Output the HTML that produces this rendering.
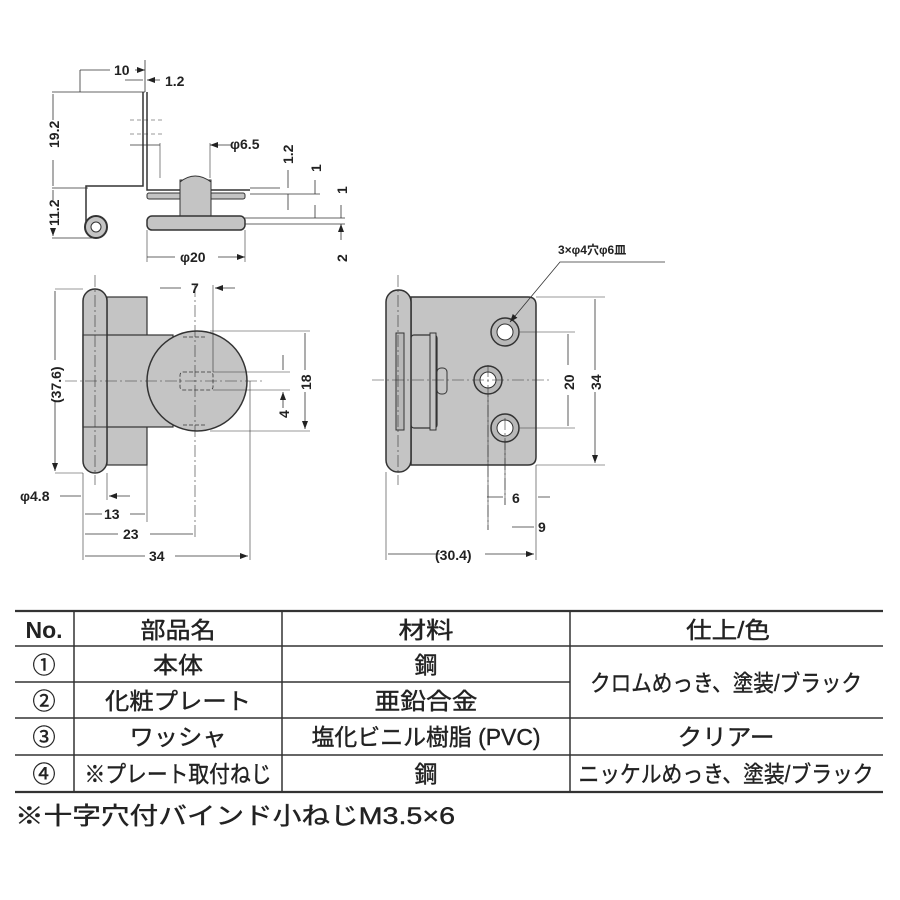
<!DOCTYPE html>
<html><head><meta charset="utf-8"><style>
body{margin:0;background:#fff;width:900px;height:900px;overflow:hidden}
svg{display:block}
text{font-family:"Liberation Sans","Noto Sans CJK JP",sans-serif;fill:#222}
</style></head><body>
<svg width="900" height="900" viewBox="0 0 900 900" xmlns="http://www.w3.org/2000/svg">
<defs>
<marker id="a" markerWidth="8" markerHeight="6" refX="8" refY="3" orient="auto-start-reverse" markerUnits="userSpaceOnUse"><path d="M0,0L8,3L0,6z" fill="#222"/></marker>
</defs>
<g stroke="#333" stroke-width="1" fill="none">
<path d="M52,92H145 M80,70V92 M145,60V92 M52,188H88 M52,238H96" stroke-width="0.8"/>
<path d="M143,92V186H86V222 M147,92V190H250" stroke-width="1.5"/>
<circle cx="96" cy="227" r="11" fill="#c4c4c4" stroke-width="2"/>
<circle cx="96" cy="227" r="5" fill="#fff"/>
<rect x="147" y="193" width="98" height="6" fill="#c4c4c4" rx="2"/>
<rect x="180" y="180" width="31" height="36" fill="#c4c4c4"/>
<path d="M180,182Q195,170 211,182" fill="#c4c4c4"/>
<rect x="147" y="216" width="98" height="14" rx="5" fill="#c4c4c4" stroke-width="1.5"/>
<path d="M245,218H345 M245,224H345 M250,188H280 M250,194H320" stroke-width="0.8"/>
<path d="M130,120H165 M130,134H165" stroke-width="0.6" stroke-dasharray="4,3"/>
<path d="M160,143V178 M210,143V178 M147,230V262 M245,230V262" stroke-width="0.6"/>
<path d="M80,70H110 M135,70H145" marker-end="url(#a)" stroke-width="0.8"/>
<path d="M125,80H143 M160,80H147" marker-end="url(#a)" stroke-width="0.8"/>
<path d="M53,120V94 M53,160V186 M53,200V190 M53,228V236" marker-end="url(#a)" stroke-width="0.8"/>
<path d="M130,145H160 M232,145H210" marker-end="url(#a)" stroke-width="0.8"/>
<path d="M175,257H147 M218,257H245" marker-end="url(#a)" stroke-width="0.8"/>
<path d="M288,170V188 M288,210V194 M315,180V194 M315,205V218 M341,205V218 M341,240V224" marker-end="url(#a)" stroke-width="0.8"/>
<rect x="107" y="297" width="40" height="168" fill="#c4c4c4" stroke-width="1.2"/>
<rect x="83" y="335" width="90" height="92" fill="#c4c4c4" stroke-width="1.2"/>
<circle cx="197" cy="381" r="50" fill="#c4c4c4" stroke-width="1.5"/>
<rect x="83" y="289" width="24" height="184" rx="12" fill="#c4c4c4" stroke-width="1.5"/>
<path d="M83,335H107 M83,427H107" stroke-width="1"/>
<rect x="180" y="372" width="33" height="18" rx="3" stroke-dasharray="4,2" stroke-width="0.8"/>
<path d="M183,337H205 M183,425H205" stroke-dasharray="4,2" stroke-width="0.8"/>
<path d="M65,381H265 M95,275V485 M195,285V540" stroke-width="0.6" stroke-dasharray="12,3,2,3"/>
<path d="M55,289H83 M55,473H83 M213,285V372 M250,381V560 M210,331H310 M210,431H310 M213,372H290 M213,390H290 M83,473V560 M107,473V500 M147,465V522" stroke-width="0.6"/>
<path d="M55,360V291 M55,402V471" marker-end="url(#a)" stroke-width="0.8"/>
<path d="M305,370V333 M305,392V429" marker-end="url(#a)" stroke-width="0.8"/>
<path d="M283,355V370 M283,408V392" marker-end="url(#a)" stroke-width="0.8"/>
<path d="M160,288H181 M235,288H215" marker-end="url(#a)" stroke-width="0.8"/>
<path d="M60,496H81 M130,496H109" marker-end="url(#a)" stroke-width="0.8"/>
<path d="M102,514H85 M130,514H145 M118,534H85 M150,534H193 M145,556H85 M175,556H248" marker-end="url(#a)" stroke-width="0.8"/>
<path d="M411,297H528Q536,297 536,305V457Q536,465 528,465H411Z" fill="#c4c4c4" stroke-width="1.5"/>
<rect x="393" y="335" width="18" height="93" fill="#b8b8b8" stroke-width="1.2"/>
<rect x="411" y="335" width="26" height="93" rx="3" fill="#c4c4c4" stroke-width="1.2"/>
<rect x="430" y="333" width="6" height="97" fill="#c4c4c4" stroke-width="1"/>
<rect x="437" y="368" width="10" height="26" rx="4" fill="#c4c4c4" stroke-width="1"/>
<rect x="386" y="290" width="25" height="182" rx="12" fill="#c4c4c4" stroke-width="1.5"/>
<rect x="396" y="333" width="8" height="97" fill="#b8b8b8" stroke-width="1"/>
<g fill="#b8b8b8" stroke-width="1.5"><circle cx="505" cy="332" r="14"/><circle cx="488" cy="380" r="14"/><circle cx="505" cy="428" r="14"/></g>
<g fill="#fff" stroke-width="1"><circle cx="505" cy="332" r="8"/><circle cx="488" cy="380" r="8"/><circle cx="505" cy="428" r="8"/></g>
<path d="M372,380H550 M398,275V485 M488,365V530 M505,418V505" stroke-width="0.6" stroke-dasharray="12,3,2,3"/>
<path d="M536,297H605 M536,465H605 M520,332H575 M520,428H575 M488,395V530 M505,440V505 M536,465V560 M386,472V560" stroke-width="0.6"/>
<path d="M568,365V334 M568,395V426 M595,370V299 M595,392V463" marker-end="url(#a)" stroke-width="0.8"/>
<path d="M487,497H503 M550,497H538 M512,527H534 M440,554H388 M485,554H534" marker-end="url(#a)" stroke-width="0.8"/>
<path d="M665,262H560L510,322" stroke-width="0.8" marker-end="url(#a)"/>
<path d="M15,611H883 M15,792H883" stroke-width="2.2"/>
<path d="M15,646H883 M15,682H570 M15,718H883 M15,755H883" stroke-width="1.5"/>
<path d="M74,611V792 M282,611V792 M570,611V792" stroke-width="1.5"/>
</g>
<g font-size="14" font-weight="bold">
<text x="114" y="75">10</text><text x="165" y="86">1.2</text>
<text x="230" y="149">φ6.5</text>
<text x="180" y="262">φ20</text>
<text transform="translate(59,148) rotate(-90)">19.2</text>
<text transform="translate(59,226) rotate(-90)">11.2</text>
<text transform="translate(293,164) rotate(-90)">1.2</text>
<text transform="translate(321,172) rotate(-90)">1</text>
<text transform="translate(347,194) rotate(-90)">1</text>
<text transform="translate(347,262) rotate(-90)">2</text>
<text x="191" y="293">7</text>
<text transform="translate(61,403) rotate(-90)">(37.6)</text>
<text transform="translate(311,390) rotate(-90)">18</text>
<text transform="translate(289,418) rotate(-90)">4</text>
<text x="20" y="501">φ4.8</text>
<text x="104" y="519">13</text>
<text x="123" y="539">23</text>
<text x="149" y="561">34</text>
<text transform="translate(574,390) rotate(-90)">20</text>
<text transform="translate(601,390) rotate(-90)">34</text>
<text x="512" y="503">6</text>
<text x="538" y="532">9</text>
<text x="435" y="560">(30.4)</text>
<text x="558" y="254" font-size="12">3×φ4穴φ6皿</text>
</g>
<g font-size="23" text-anchor="middle" stroke="#222" stroke-width="0.4">
<text x="44" y="638" font-weight="bold" stroke-width="0">No.</text>
<text x="178" y="638" textLength="75" lengthAdjust="spacingAndGlyphs">部品名</text>
<text x="426" y="638" textLength="55" lengthAdjust="spacingAndGlyphs">材料</text>
<text x="728" y="638" textLength="84" lengthAdjust="spacingAndGlyphs">仕上/色</text>
<text x="44" y="673">①</text><text x="178" y="673" textLength="50" lengthAdjust="spacingAndGlyphs">本体</text><text x="426" y="673">鋼</text>
<text x="44" y="709">②</text><text x="178" y="709" textLength="146" lengthAdjust="spacingAndGlyphs">化粧プレート</text><text x="426" y="709" textLength="103" lengthAdjust="spacingAndGlyphs">亜鉛合金</text>
<text x="726" y="691" textLength="272" lengthAdjust="spacingAndGlyphs">クロムめっき、塗装/ブラック</text>
<text x="44" y="745">③</text><text x="178" y="745" textLength="97" lengthAdjust="spacingAndGlyphs">ワッシャ</text><text x="426" y="745" textLength="229" lengthAdjust="spacingAndGlyphs">塩化ビニル樹脂 (PVC)</text><text x="726" y="745" textLength="97" lengthAdjust="spacingAndGlyphs">クリアー</text>
<text x="44" y="782">④</text><text x="178" y="782" textLength="187" lengthAdjust="spacingAndGlyphs">※プレート取付ねじ</text><text x="426" y="782">鋼</text><text x="726" y="782" textLength="295" lengthAdjust="spacingAndGlyphs">ニッケルめっき、塗装/ブラック</text>
</g>
<text x="15" y="824" font-size="24" stroke="#222" stroke-width="0.4" textLength="440" lengthAdjust="spacingAndGlyphs">※十字穴付バインド小ねじM3.5×6</text>
</svg>
</body></html>
